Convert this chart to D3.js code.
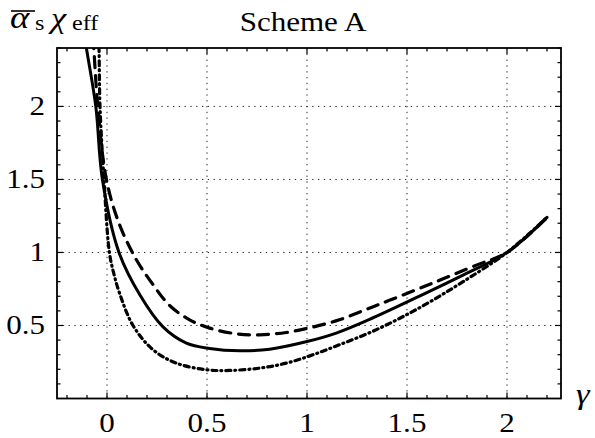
<!DOCTYPE html>
<html>
<head>
<meta charset="utf-8">
<script src="https://cdn.jsdelivr.net/npm/d3@7"></script>
<style>
  html, body { margin: 0; padding: 0; background: #fff; }
</style>
</head>
<body>
<svg id="chart" width="595" height="438" font-family="'Liberation Serif', 'Times New Roman', serif"></svg>
<script>
// Axis ticks
const xTickVals = [0, 0.5, 1, 1.5, 2];
const xTickLabels = ["0", "0.5", "1", "1.5", "2"];
const yTickVals = [0.5, 1, 1.5, 2];
const yTickLabels = ["0.5", "1", "1.5", "2"];

// Solid curve
const gammaSolid = [-0.125, -0.103, -0.056, -0.023, 0.06, 0.164, 0.28, 0.397, 0.513, 0.663, 0.813, 1.0, 1.146, 1.31, 1.53, 1.78, 2.0, 2.2];
const valueSolid = [2.6, 2.4, 2.0, 1.5, 1.0, 0.71, 0.49, 0.379, 0.343, 0.327, 0.338, 0.39, 0.448, 0.54, 0.68, 0.845, 1.0, 1.24];

// Dashed curve
const gammaDashed = [-0.075, -0.066, -0.046, -0.003, 0.06, 0.147, 0.23, 0.313, 0.413, 0.513, 0.646, 0.763, 0.896, 1.029, 1.162, 1.296, 1.412, 1.628, 1.85, 2.0, 2.2];
const valueDashed = [2.6, 2.4, 2.0, 1.5, 1.2, 0.95, 0.78, 0.637, 0.539, 0.482, 0.443, 0.436, 0.452, 0.489, 0.539, 0.61, 0.672, 0.79, 0.915, 1.0, 1.24];

// Dash-dotted curve
const gammaDotDash = [-0.045, -0.04, -0.035, -0.015, 0.012, 0.035, 0.063, 0.13, 0.23, 0.347, 0.497, 0.613, 0.763, 0.896, 1.029, 1.162, 1.312, 1.462, 1.612, 1.778, 2.0, 2.2];
const valueDotDash = [2.6, 2.4, 2.0, 1.5, 1.0, 0.85, 0.72, 0.5, 0.334, 0.242, 0.197, 0.192, 0.208, 0.242, 0.299, 0.368, 0.45, 0.548, 0.66, 0.798, 1.0, 1.24];

const svg = d3.select("#chart");
const plotLeft = 57, plotRight = 561, plotTop = 48, plotBottom = 398.5;
const stretch = 1.15; // glyphs are drawn a little wider than the font's natural width

const x = d3.scaleLinear().domain([-0.25, 2.27]).range([plotLeft, plotRight]);
const y = d3.scaleLinear().domain([0, 2.4]).range([plotBottom, plotTop]);

// Dotted grid
const grid = svg.append("g").attr("stroke", "#222").attr("stroke-width", 1)
  .attr("stroke-dasharray", "1.3,4.5");
grid.selectAll("line.gx").data(xTickVals).join("line").attr("class", "gx")
  .attr("x1", d => x(d)).attr("x2", d => x(d)).attr("y1", plotTop).attr("y2", plotBottom);
grid.selectAll("line.gy").data(yTickVals).join("line").attr("class", "gy")
  .attr("x1", plotLeft).attr("x2", plotRight).attr("y1", d => y(d)).attr("y2", d => y(d));

// Curves
svg.append("clipPath").attr("id", "plotClip").append("rect")
  .attr("x", plotLeft).attr("y", plotTop).attr("width", plotRight - plotLeft).attr("height", plotBottom - plotTop);

const line = d3.line().x(d => x(d[0])).y(d => y(d[1])).curve(d3.curveCatmullRom.alpha(0.5));
const curves = svg.append("g").attr("clip-path", "url(#plotClip)").attr("fill", "none")
  .attr("stroke", "#000").attr("stroke-linecap", "round");

curves.append("path").datum(d3.zip(gammaDotDash, valueDotDash))
  .attr("d", line).attr("stroke-width", 3.2).attr("stroke-dasharray", "5,4,1,4");
curves.append("path").datum(d3.zip(gammaDashed, valueDashed))
  .attr("d", line).attr("stroke-width", 3.2).attr("stroke-dasharray", "11,8");
curves.append("path").datum(d3.zip(gammaSolid, valueSolid))
  .attr("d", line).attr("stroke-width", 3);

// Frame with inward ticks on all sides
const ticks = svg.append("g").attr("stroke", "#000").attr("stroke-width", 1.2);
const xMinor = x.ticks(25).filter(v => !xTickVals.includes(+v.toFixed(2)));
const yMinor = y.ticks(24).filter(v => !yTickVals.includes(+v.toFixed(2)) && v > 0);
const addXTicks = (vals, len) => {
  ticks.selectAll(null).data(vals).join("line")
    .attr("x1", d => x(d)).attr("x2", d => x(d)).attr("y1", plotBottom).attr("y2", plotBottom - len);
  ticks.selectAll(null).data(vals).join("line")
    .attr("x1", d => x(d)).attr("x2", d => x(d)).attr("y1", plotTop).attr("y2", plotTop + len);
};
const addYTicks = (vals, len) => {
  ticks.selectAll(null).data(vals).join("line")
    .attr("y1", d => y(d)).attr("y2", d => y(d)).attr("x1", plotLeft).attr("x2", plotLeft + len);
  ticks.selectAll(null).data(vals).join("line")
    .attr("y1", d => y(d)).attr("y2", d => y(d)).attr("x1", plotRight).attr("x2", plotRight - len);
};
addXTicks(xTickVals, 6); addXTicks(xMinor, 3.5);
addYTicks(yTickVals, 6); addYTicks(yMinor, 3.5);

svg.append("rect").attr("x", plotLeft).attr("y", plotTop).attr("width", plotRight - plotLeft).attr("height", plotBottom - plotTop)
  .attr("fill", "none").attr("stroke", "#000").attr("stroke-width", 1.8);

// Text placed at (tx, ty) and widened horizontally about its anchor
const place = (sel, tx, ty) => sel.attr("transform", `translate(${tx},${ty}) scale(${stretch},1)`);

// Tick labels
svg.append("g").selectAll("text").data(xTickVals).join("text")
  .attr("transform", d => `translate(${x(d)},432) scale(${stretch},1)`)
  .attr("text-anchor", "middle").attr("font-size", 27).text((d, i) => xTickLabels[i]);
svg.append("g").selectAll("text").data(yTickVals).join("text")
  .attr("transform", d => `translate(45,${y(d) + 9}) scale(${stretch},1)`)
  .attr("text-anchor", "end").attr("font-size", 27).text((d, i) => yTickLabels[i]);

// Title
place(svg.append("text"), 303, 31).attr("text-anchor", "middle")
  .attr("font-size", 27).text("Scheme A");

// Vertical-axis label: overlined alpha_s and chi_eff
place(svg.append("text"), 10, 28).attr("font-size", 32).attr("font-style", "italic").text("α");
place(svg.append("text"), 35, 30).attr("font-size", 21).text("s");
place(svg.append("text"), 51, 28).attr("font-size", 30).attr("font-style", "italic").text("χ");
place(svg.append("text"), 72, 30).attr("font-size", 21).text("eff");
svg.append("line").attr("x1", 11).attr("x2", 35).attr("y1", 11).attr("y2", 11)
  .attr("stroke", "#000").attr("stroke-width", 1.6);

// Horizontal-axis label
place(svg.append("text"), 576, 404).attr("font-size", 30).attr("font-style", "italic").text("γ");
</script>
</body>
</html>
